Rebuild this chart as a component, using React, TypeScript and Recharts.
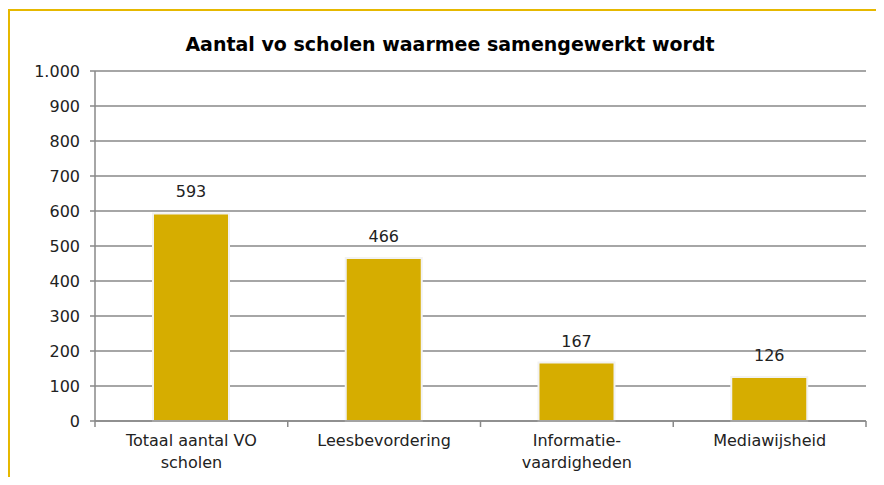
import { BarChart, Bar, XAxis, YAxis, CartesianGrid, LabelList } from "recharts";

const categories = ["Totaal aantal VO\nscholen", "Leesbevordering", "Informatie-\nvaardigheden", "Mediawijsheid"];
const values = [593, 466, 167, 126];
const yTicks = [0, 100, 200, 300, 400, 500, 600, 700, 800, 900, 1000];

const data = categories.map((name, i) => ({ name, value: values[i] }));

const FONT = "Verdana, 'DejaVu Sans', sans-serif";
const GRID = "#898989";
const TICK_SIZE = 6;
const TICK_MARGIN = 2;

const formatNl = (v: number) => String(v).replace(/\B(?=(\d{3})+(?!\d))/g, ".");

// category label plus tick marks on the band edges (Excel style)
function CategoryTick({ x, y, payload, index, width, visibleTicksCount }: any) {
  const lines = String(payload.value).split("\n");
  const band = width / visibleTicksCount;
  const top = y - TICK_SIZE - TICK_MARGIN;
  const edges = [x - band / 2];
  if (index === visibleTicksCount - 1) edges.push(x + band / 2);
  return (
    <g>
      {edges.map((ex, i) => (
        <line key={i} x1={ex} x2={ex} y1={top} y2={top + TICK_SIZE} stroke={GRID} strokeWidth={1.5} />
      ))}
      <text x={x} y={y} textAnchor="middle" fill="#222" fontSize={16} fontFamily={FONT}>
        {lines.map((line, i) => (
          <tspan key={i} x={x} dy={i === 0 ? 17 : 22}>
            {line}
          </tspan>
        ))}
      </text>
    </g>
  );
}

export default function App() {
  return (
    <div style={{ position: "relative", width: 884, height: 485, margin: -8, overflow: "hidden", background: "#fff" }}>
      {/* frame runs past the screenshot edge */}
      <div
        style={{
          position: "absolute",
          left: 8,
          top: 9,
          width: 900,
          height: 500,
          border: "2px solid #E6B800",
          boxSizing: "border-box",
        }}
      />
      <div
        style={{
          position: "absolute",
          left: 8,
          top: 33,
          width: 884,
          textAlign: "center",
          fontFamily: FONT,
          fontWeight: "bold",
          fontSize: 19,
          color: "#000",
        }}
      >
        Aantal vo scholen waarmee samengewerkt wordt
      </div>
      <div style={{ position: "absolute", left: 0, top: 0 }}>
        <BarChart width={884} height={485} data={data} margin={{ top: 71, right: 18, bottom: 4, left: 0 }}>
          <CartesianGrid vertical={false} stroke={GRID} strokeWidth={1.5} />
          <XAxis
            dataKey="name"
            height={60}
            axisLine={{ stroke: GRID, strokeWidth: 1.5 }}
            tickLine={false}
            tickSize={TICK_SIZE}
            tickMargin={TICK_MARGIN}
            tick={<CategoryTick />}
            interval={0}
          />
          <YAxis
            width={95}
            domain={[0, 1000]}
            ticks={yTicks}
            tickFormatter={formatNl}
            axisLine={{ stroke: GRID, strokeWidth: 1.5 }}
            tickLine={{ stroke: GRID, strokeWidth: 1.5 }}
            tickSize={5}
            tickMargin={10}
            tick={{ fill: "#222", fontSize: 16, fontFamily: FONT }}
            interval={0}
          />
          <Bar
            dataKey="value"
            fill="#D6AD00"
            stroke="#F2F2F2"
            strokeWidth={2}
            barSize={76}
            isAnimationActive={false}
          >
            <LabelList dataKey="value" position="top" offset={16} fill="#222" fontSize={16} fontFamily={FONT} />
          </Bar>
        </BarChart>
      </div>
    </div>
  );
}
